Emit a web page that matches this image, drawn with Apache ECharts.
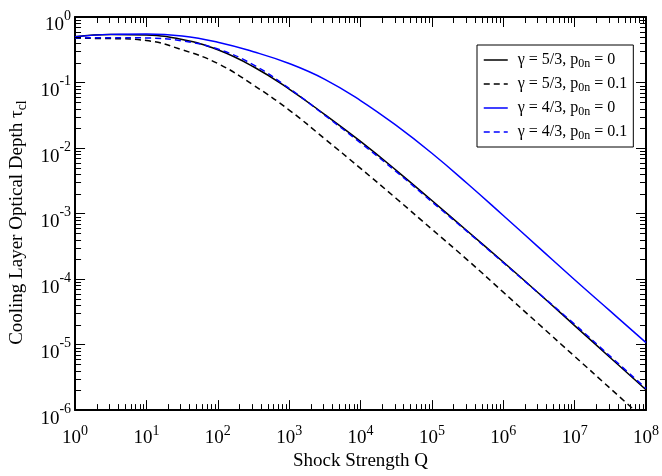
<!DOCTYPE html>
<html><head><meta charset="utf-8">
<script src="https://cdn.jsdelivr.net/npm/echarts@6/dist/echarts.min.js"></script>
<style>html,body{margin:0;padding:0;background:#fff}#c{width:662px;height:476px}</style>
</head><body><div id="c"></div>
<script>
// Shock strength Q (half-decade sampling)
const Q = [1, 3.162, 10, 31.62, 100, 316.2, 1e3, 3162, 1e4, 31620, 1e5, 316200, 1e6, 3162000, 1e7, 31620000, 1e8];
// Cooling layer optical depth tau_cl
const tau_g53_p0  = [0.501, 0.543, 0.531, 0.452, 0.316, 0.174, 0.0794, 0.0324, 0.0126, 0.00457, 0.00158, 5.37e-4, 1.82e-4, 6.03e-5, 1.95e-5, 6.31e-6, 2.04e-6];
const tau_g53_p01 = [0.473, 0.468, 0.437, 0.316, 0.195, 0.0912, 0.0380, 0.0138, 0.0049, 0.0017, 5.75e-4, 1.95e-4, 6.31e-5, 2.04e-5, 6.61e-6, 2.14e-6, 6.92e-7];
const tau_g43_p0  = [0.501, 0.543, 0.550, 0.513, 0.412, 0.295, 0.195, 0.112, 0.0531, 0.0221, 0.00832, 0.00285, 9.33e-4, 3.02e-4, 9.77e-5, 3.24e-5, 1.07e-5];
const tau_g43_p01 = [0.479, 0.484, 0.479, 0.432, 0.324, 0.186, 0.0813, 0.0316, 0.0120, 0.00437, 0.00151, 5.25e-4, 1.78e-4, 6.03e-5, 2.04e-5, 6.61e-6, 2.14e-6];

const seriesGamma = ['5/3', '5/3', '4/3', '4/3'];
const seriesP0n   = ['0', '0.1', '0', '0.1'];
const seriesNames = ['γ = 5/3, p0n = 0', 'γ = 5/3, p0n = 0.1', 'γ = 4/3, p0n = 0', 'γ = 4/3, p0n = 0.1'];

// Axis decades (tick label exponents)
const xExponents = [0, 1, 2, 3, 4, 5, 6, 7, 8];
const yExponents = [-6, -5, -4, -3, -2, -1, 0];

const xMin = Math.pow(10, xExponents[0]), xMax = Math.pow(10, xExponents[xExponents.length - 1]);
const yMin = Math.pow(10, yExponents[0]), yMax = Math.pow(10, yExponents[yExponents.length - 1]);

function minors(exps) {
  const out = [];
  for (let i = 0; i < exps.length - 1; i++) {
    for (let m = 2; m <= 9; m++) out.push(m * Math.pow(10, exps[i]));
  }
  return out;
}
const xMinor = minors(xExponents).map(v => [v, 1]);
const yMinor = minors(yExponents).map(v => [1, v]);

const FONT = 'Liberation Serif';
function labelRich(supPad) {
  return {
    b: { fontSize: 19, lineHeight: 30, verticalAlign: 'bottom', fontFamily: FONT, color: '#000' },
    s: { fontSize: 14, lineHeight: 14, verticalAlign: 'top', padding: [supPad, 0, 0, 0], fontFamily: FONT, color: '#000' }
  };
}
const expFmt = v => '{b|10}{s|' + Math.round(Math.log10(v)) + '}';

const MINOR = 6, MAJOR = 10;

function pairLine(x1, y1, x2, y2) {
  return { type: 'line', shape: { x1: x1, y1: y1, x2: x2, y2: y2 }, style: { stroke: '#000', lineWidth: 1 } };
}

const baseAxis = (extra) => Object.assign({
  type: 'log', logBase: 10,
  axisLine: { show: true, lineStyle: { color: '#000', width: 2 } },
  axisTick: { show: true, inside: true, length: MAJOR, lineStyle: { color: '#000', width: 1 } },
  splitLine: { show: false },
  minorTick: { show: false },
  minorSplitLine: { show: false }
}, extra);

const chart = echarts.init(document.getElementById('c'), null, { renderer: 'canvas' });
const dataSets = [tau_g53_p0, tau_g53_p01, tau_g43_p0, tau_g43_p01];
const colors = ['#000000', '#000000', '#0000ff', '#0000ff'];
const dashed = [false, true, false, true];

const lineSeries = dataSets.map((d, i) => ({
  name: seriesNames[i],
  type: 'line',
  xAxisIndex: 0, yAxisIndex: 0,
  data: Q.map((q, j) => [q, d[j]]),
  smooth: 0.45,
  symbol: 'none',
  showSymbol: false,
  clip: true,
  lineStyle: { color: colors[i], width: 1.5, type: dashed[i] ? [6, 4] : 'solid' },
  itemStyle: { color: colors[i] },
  z: 3
}));

chart.setOption({
  animation: false,
  backgroundColor: '#fff',
  grid: { left: 73, right: 13, top: 17, bottom: 56, containLabel: false },
  xAxis: [
    baseAxis({
      position: 'bottom', min: xMin, max: xMax, splitNumber: 8,
      axisLabel: { show: true, margin: 7, formatter: expFmt, rich: labelRich(7) },
      name: 'Shock Strength Q', nameLocation: 'middle', nameGap: 33,
      nameTextStyle: { fontFamily: FONT, fontSize: 19, color: '#000' }
    }),
    baseAxis({ position: 'top', min: xMin, max: xMax, splitNumber: 8, axisLabel: { show: false } })
  ],
  yAxis: [
    baseAxis({
      position: 'left', min: yMin, max: yMax, splitNumber: 6,
      axisLabel: { show: true, margin: 4, padding: [6, 0, 0, 0], formatter: expFmt, rich: labelRich(4) },
      name: '{n|Cooling Layer Optical Depth τ}{sub|cl}', nameLocation: 'middle', nameGap: 36,
      nameTextStyle: {
        padding: [0, 18, 0, 0],
        rich: {
          n: { fontFamily: FONT, fontSize: 19, lineHeight: 24, color: '#000' },
          sub: { fontFamily: FONT, fontSize: 14, lineHeight: 14, verticalAlign: 'bottom', color: '#000' }
        }
      }
    }),
    baseAxis({ position: 'right', min: yMin, max: yMax, splitNumber: 6, axisLabel: { show: false } })
  ],
  legend: {
    data: seriesNames,
    orient: 'vertical',
    left: 477, top: 45,
    padding: [7, 6, 5, 6],
    itemGap: 6,
    itemWidth: 24, itemHeight: 14,
    borderColor: '#000', borderWidth: 1, borderRadius: 0,
    backgroundColor: '#fff',
    selectedMode: false,
    itemStyle: { opacity: 0, borderWidth: 0 },
    lineStyle: { width: 1.5, opacity: 1 },
    formatter: function (name) {
      const i = seriesNames.indexOf(name);
      return '{t|γ = ' + seriesGamma[i] + ', p}{s|0n}{t| = ' + seriesP0n[i] + '}';
    },
    textStyle: {
      padding: [0, 0, 0, 5],
      rich: {
        t: { fontFamily: FONT, fontSize: 16, lineHeight: 20, color: '#000' },
        s: { fontFamily: FONT, fontSize: 12, lineHeight: 12, verticalAlign: 'bottom', color: '#000' }
      }
    }
  },
  series: lineSeries.concat([
    {
      type: 'custom', name: 'xminor', silent: true, xAxisIndex: 0, yAxisIndex: 0,
      data: xMinor, z: 10,
      renderItem: function (params, api) {
        const b = api.coord([api.value(0), yMin]);
        const t = api.coord([api.value(0), yMax]);
        const x = Math.round(b[0]) + 0.5;
        return { type: 'group', children: [
          pairLine(x, b[1], x, b[1] - MINOR),
          pairLine(x, t[1], x, t[1] + MINOR)
        ] };
      }
    },
    {
      type: 'custom', name: 'yminor', silent: true, xAxisIndex: 0, yAxisIndex: 0,
      data: yMinor, z: 10,
      renderItem: function (params, api) {
        const l = api.coord([xMin, api.value(1)]);
        const r = api.coord([xMax, api.value(1)]);
        const y = Math.round(l[1]) + 0.5;
        return { type: 'group', children: [
          pairLine(l[0], y, l[0] + MINOR, y),
          pairLine(r[0], y, r[0] - MINOR, y)
        ] };
      }
    }
  ])
});
</script>
</body></html>
